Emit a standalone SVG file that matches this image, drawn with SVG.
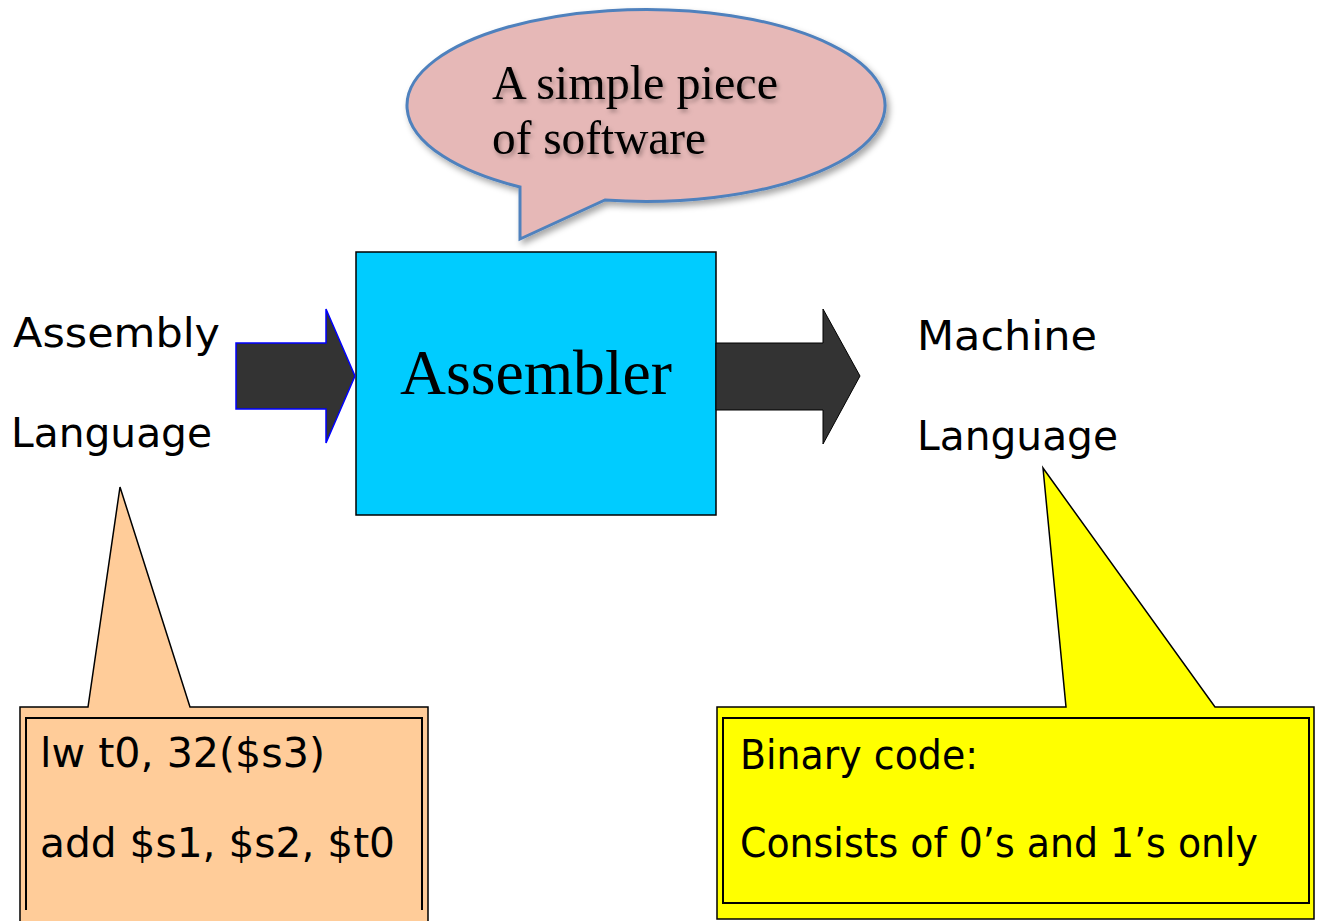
<svg xmlns="http://www.w3.org/2000/svg" width="1321" height="921" viewBox="0 0 1321 921">
<style>
.comic{font-family:"Comic Sans MS","DejaVu Sans","Liberation Sans",sans-serif;font-size:40px;fill:#000}
.serif{font-family:"Liberation Serif","Times New Roman",serif;fill:#000}
.arrow{fill:#333333}
.outer{stroke:#000;stroke-width:1.5}
.inner{fill:none;stroke:#000;stroke-width:2}
</style>
<defs>
<filter id="shadow" x="-10%" y="-10%" width="125%" height="130%">
<feDropShadow dx="3" dy="4" stdDeviation="3" flood-color="#000" flood-opacity="0.35"/>
</filter>
<filter id="tshadow" x="-5%" y="-20%" width="115%" height="150%">
<feDropShadow dx="2" dy="3" stdDeviation="2" flood-color="#000" flood-opacity="0.3"/>
</filter>
</defs>
<rect width="1321" height="921" fill="#fff"/>

<g id="bubble">
<path d="M520 187 L520 239 L605 200 A239 96 0 1 0 520 187 Z" fill="#E6B8B7" stroke="#4F81BD" stroke-width="3" filter="url(#shadow)"/>
<g filter="url(#tshadow)">
<text class="serif" x="492" y="99" font-size="48" textLength="286" lengthAdjust="spacingAndGlyphs">A simple piece</text>
<text class="serif" x="492" y="154" font-size="48" textLength="214" lengthAdjust="spacingAndGlyphs">of software</text>
</g>
</g>

<g id="assembler">
<rect x="356" y="252" width="360" height="263" fill="#00CCFF" stroke="#000" stroke-width="1.5"/>
<text class="serif" x="400" y="394" font-size="64" textLength="272" lengthAdjust="spacingAndGlyphs">Assembler</text>
</g>

<g id="connectors">
<path class="arrow" d="M236 343 H326 V309 L355 376 L326 443 V409 H236 Z" stroke="#0000FF" stroke-width="1.5"/>
<path class="arrow" d="M716 343 H823 V309 L860 376 L823 444 V410 H716 Z" stroke="#000" stroke-width="1"/>
</g>

<g id="assembly-label">
<text class="comic" x="13" y="347" textLength="207" lengthAdjust="spacingAndGlyphs">Assembly</text>
<text class="comic" x="11" y="447" textLength="201" lengthAdjust="spacingAndGlyphs">Language</text>
</g>

<g id="machine-label">
<text class="comic" x="917" y="350" textLength="180" lengthAdjust="spacingAndGlyphs">Machine</text>
<text class="comic" x="917" y="450" textLength="201" lengthAdjust="spacingAndGlyphs">Language</text>
</g>

<g id="assembly-callout">
<path class="outer" d="M20 707 H88 L120 487 L190 707 H428 V935 H20 Z" fill="#FFCC99"/>
<path class="inner" d="M26 910 V718 H422 V910"/>
<text class="comic" x="40" y="767" textLength="285" lengthAdjust="spacingAndGlyphs">lw t0, 32($s3)</text>
<text class="comic" x="40" y="857" textLength="355" lengthAdjust="spacingAndGlyphs">add $s1, $s2, $t0</text>
</g>

<g id="machine-callout">
<path class="outer" d="M717 707 H1066 L1043 468 L1215 707 H1314 V919 H717 Z" fill="#FFFF00"/>
<rect class="inner" x="723" y="718" width="586" height="185"/>
<text class="comic" x="740" y="769" textLength="238" lengthAdjust="spacingAndGlyphs">Binary code:</text>
<text class="comic" x="740" y="857" textLength="518" lengthAdjust="spacingAndGlyphs">Consists of 0’s and 1’s only</text>
</g>
</svg>
